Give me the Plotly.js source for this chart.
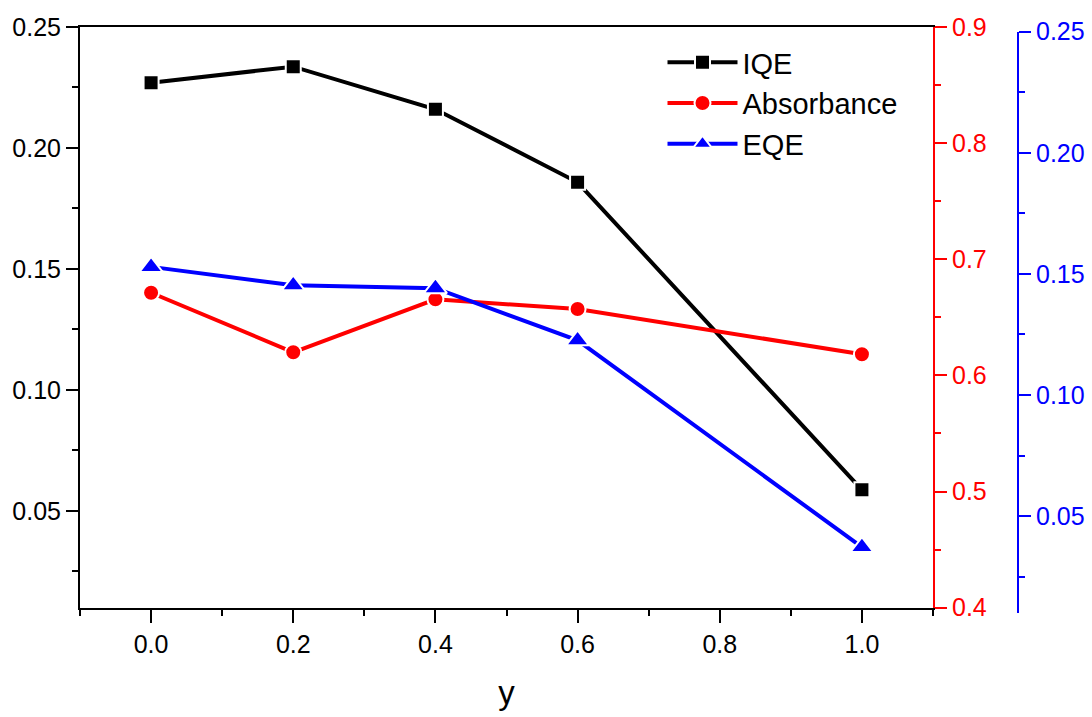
<!DOCTYPE html>
<html>
<head>
<meta charset="utf-8">
<script src="https://cdn.plot.ly/plotly-3.0.1.min.js"></script>
<style>html,body{margin:0;padding:0;background:#fff;}#chart{width:1092px;height:717px;}</style>
</head>
<body>
<div id="chart"></div>
<script>
const yValues = [0.0, 0.2, 0.4, 0.6, 1.0];
const iqe = [0.2270, 0.2336, 0.2160, 0.1858, 0.0587];
const absorbance = [0.6712, 0.6199, 0.6655, 0.6572, 0.6182];
const eqe = [0.1529, 0.1453, 0.1441, 0.1226, 0.0372];
const seriesNames = ['IQE', 'Absorbance', 'EQE'];
const xTitle = 'y';

const FONT = 'Arial, "Liberation Sans", sans-serif';

const traces = [
  {x: yValues, y: iqe, name: seriesNames[0], type: 'scatter', mode: 'lines+markers',
   xaxis: 'x', yaxis: 'y',
   line: {color: '#000000', width: 4},
   marker: {symbol: 'square', size: 15, color: '#000000', line: {color: '#ffffff', width: 2}}},
  {x: yValues, y: absorbance, name: seriesNames[1], type: 'scatter', mode: 'lines+markers',
   xaxis: 'x', yaxis: 'y2',
   line: {color: '#ff0000', width: 4},
   marker: {symbol: 'circle', size: 16, color: '#ff0000', line: {color: '#ffffff', width: 2}}},
  {x: yValues, y: eqe, name: seriesNames[2], type: 'scatter', mode: 'lines+markers',
   xaxis: 'x', yaxis: 'y3',
   line: {color: '#0000ff', width: 4},
   marker: {symbol: 'triangle-up', size: 20, color: '#0000ff', line: {color: '#ffffff', width: 2}}}
];

const plotW = 938;
const xDomEnd = 853 / plotW;

const layout = {
  width: 1092, height: 717,
  margin: {l: 80, r: 74, t: 27, b: 104, pad: 0},
  paper_bgcolor: '#ffffff', plot_bgcolor: 'rgba(0,0,0,0)',
  font: {family: FONT, size: 25, color: '#000'},
  showlegend: true,
  legend: {x: 0.621, y: 0.983, xanchor: 'left', yanchor: 'top',
           bgcolor: 'rgba(0,0,0,0)', borderwidth: 0,
           font: {family: FONT, size: 29, color: '#000'},
           itemwidth: 70, tracegroupgap: 0},
  xaxis: {
    domain: [0, xDomEnd], anchor: 'y',
    range: [-0.1, 1.1], dtick: 0.2, tick0: 0, tickformat: '.1f',
    showgrid: false, zeroline: false,
    showline: true, linecolor: '#000', linewidth: 2, mirror: true,
    ticks: 'outside', ticklen: 13, tickwidth: 2, tickcolor: '#000',
    minor: {dtick: 0.1, tick0: 0, ticks: 'outside', ticklen: 6, tickwidth: 2, tickcolor: '#000', showgrid: false},
    tickfont: {family: FONT, size: 25, color: '#000'},
    title: {text: xTitle, font: {family: FONT, size: 33, color: '#000'}, standoff: 24}
  },
  yaxis: {
    domain: [5.3 / 586, 1], anchor: 'x',
    range: [0.01, 0.25], dtick: 0.05, tick0: 0, tickformat: '.2f',
    showgrid: false, zeroline: false,
    showline: true, linecolor: '#000', linewidth: 2, mirror: false,
    ticks: 'outside', ticklen: 12, tickwidth: 2, tickcolor: '#000',
    minor: {dtick: 0.025, tick0: 0, ticks: 'outside', ticklen: 6, tickwidth: 2, tickcolor: '#000', showgrid: false},
    tickfont: {family: FONT, size: 25, color: '#000'}
  },
  yaxis2: {
    overlaying: 'y', side: 'right', anchor: 'x',
    range: [0.4, 0.9], dtick: 0.1, tick0: 0, tickformat: '.1f',
    showgrid: false, zeroline: false,
    showline: true, linecolor: '#ff0000', linewidth: 2,
    ticks: 'outside', ticklen: 12, tickwidth: 2, tickcolor: '#ff0000',
    minor: {dtick: 0.05, tick0: 0, ticks: 'outside', ticklen: 6, tickwidth: 2, tickcolor: '#ff0000', showgrid: false},
    tickfont: {family: FONT, size: 25, color: '#ff0000'}
  },
  yaxis3: {
    domain: [0, (613 - 31.7) / 586], anchor: 'free', position: 1, side: 'right',
    range: [0.01, 0.25], dtick: 0.05, tick0: 0, tickformat: '.2f',
    showgrid: false, zeroline: false,
    showline: true, linecolor: '#0000ff', linewidth: 2,
    ticks: 'outside', ticklen: 12, tickwidth: 2, tickcolor: '#0000ff',
    minor: {dtick: 0.025, tick0: 0, ticks: 'outside', ticklen: 6, tickwidth: 2, tickcolor: '#0000ff', showgrid: false},
    tickfont: {family: FONT, size: 25, color: '#0000ff'}
  }
};

Plotly.newPlot('chart', traces, layout, {displayModeBar: false, staticPlot: true});
</script>
</body>
</html>
